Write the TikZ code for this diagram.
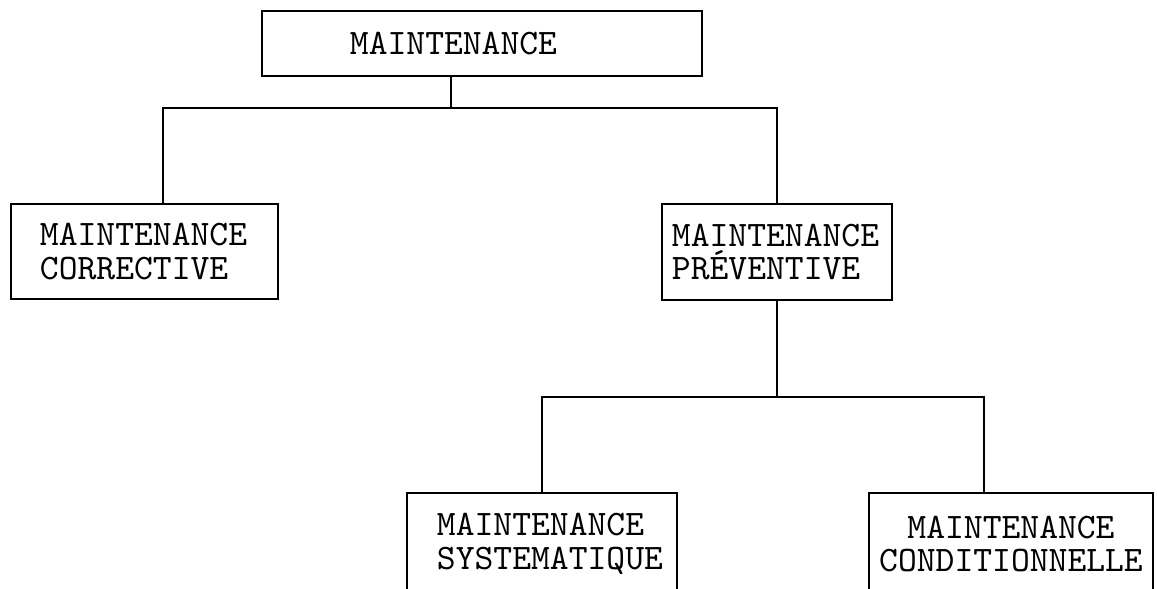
\documentclass[tikz,border=0pt]{standalone}
\usepackage{fontspec}
\usepackage{tikz}
\hfuzz=1cm

\begin{document}
\begin{tikzpicture}[x=0.01cm,y=-0.01cm,
                    box/.style={rectangle,draw=black,line width=0.6pt,inner ysep=0pt,
                                font=\ttfamily\fontsize{10.2}{9.6}\selectfont},
                    leftbox/.style={box,align=left},
                    link/.style={draw=black,line width=0.6pt}
                ]
    \useasboundingbox (0,0) rectangle (1157,589);
    \clip (0,0) rectangle (1157,589);
    % boxes
    \node[leftbox,minimum width=4.40cm,minimum height=0.65cm,inner xsep=0.88cm,text width=2.64cm] (maint) at (482,43.5) {MAINTENANCE};
    \node[leftbox,minimum width=2.67cm,minimum height=0.95cm,inner xsep=0.29cm,text width=2.09cm] (corr) at (144.5,251.5) {MAINTENANCE\\CORRECTIVE};
    \node[leftbox,minimum width=2.30cm,minimum height=0.96cm,inner xsep=0.10cm,text width=2.10cm] (prev) at (777,252) {MAINTENANCE\\PRÉVENTIVE};
    \node[leftbox,minimum width=2.70cm,minimum height=1.02cm,inner xsep=0.30cm,text width=2.10cm] (syst) at (542,544) {MAINTENANCE\\SYSTEMATIQUE};
    \node[box,align=center,minimum width=2.84cm,minimum height=1.02cm,inner xsep=0.05cm,text width=2.74cm] (cond) at (1011,544) {MAINTENANCE\\CONDITIONNELLE};
    % links
    \coordinate (top) at (451,108);
    \coordinate (topl) at (163,108);
    \coordinate (topr) at (777,108);
    \draw[link] (maint.south -| top) -- (top);
    \draw[link] (corr.north -| topl) -- (topl) -- (topr) -- (prev.north);
    \coordinate (mid) at (777,397);
    \coordinate (midl) at (542,397);
    \coordinate (midr) at (984,397);
    \draw[link] (prev.south) -- (mid);
    \draw[link] (syst.north -| midl) -- (midl) -- (midr) -- (cond.north -| midr);
\end{tikzpicture}
\end{document}
